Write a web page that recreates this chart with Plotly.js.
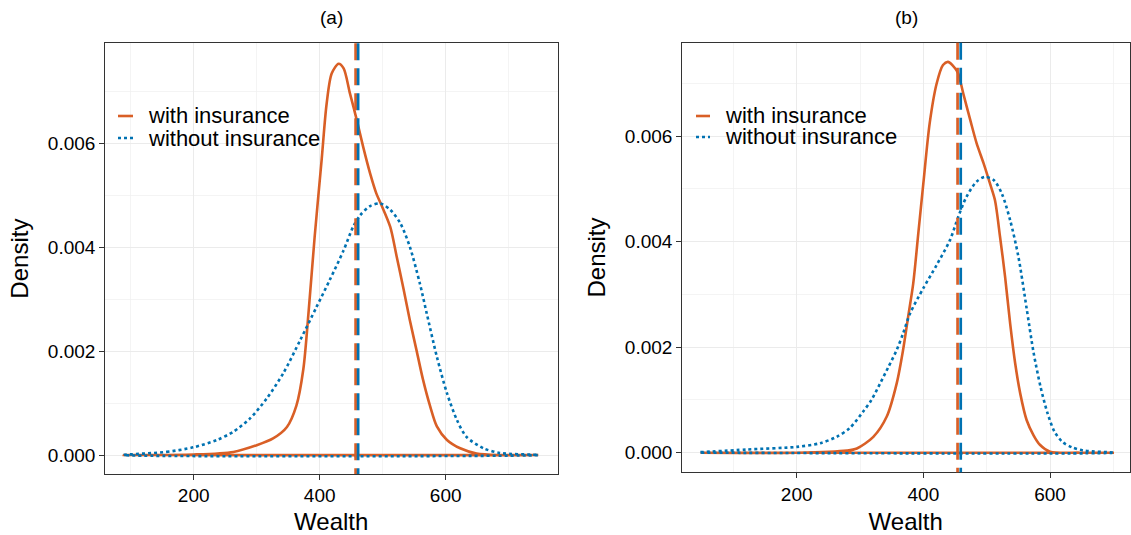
<!DOCTYPE html>
<html>
<head>
<meta charset="utf-8">
<script src="https://cdn.plot.ly/plotly-3.0.1.min.js"></script>
<style>html,body{margin:0;padding:0;background:#fff;}#chart{width:1131px;height:535px;}</style>
</head>
<body>
<div id="chart"></div>
<script>
// ---------- data ----------
const panelTitles = ["(a)", "(b)"];
const seriesNames = ["with insurance", "without insurance"];

// Panel (a)
const aWithX = [89, 200, 263, 300, 326, 348, 363, 374, 382, 392, 403, 411, 419, 430, 438, 448, 459, 469, 480, 490, 498, 512, 522, 533, 543, 554, 564, 575, 586, 602, 623, 649, 686, 747];
const aWithY = [0, 0.00001, 0.00006, 0.00019, 0.00032, 0.00054, 0.00095, 0.00165, 0.00270, 0.00420, 0.00567, 0.00676, 0.00734, 0.00753, 0.00744, 0.00696, 0.00644, 0.00593, 0.00542, 0.00503, 0.00481, 0.00439, 0.00383, 0.00320, 0.00260, 0.00200, 0.00145, 0.00095, 0.00055, 0.00029, 0.00013, 0.00003, 0, 0];
const aWithoutX = [89, 157, 200, 237, 263, 289, 316, 342, 369, 395, 416, 438, 453, 464, 480, 496, 512, 528, 543, 559, 570, 586, 602, 618, 633, 660, 686, 747];
const aWithoutY = [0, 0.00006, 0.00015, 0.00029, 0.00045, 0.00070, 0.00109, 0.00157, 0.00221, 0.00285, 0.00337, 0.00394, 0.00439, 0.00461, 0.00479, 0.00484, 0.00472, 0.00446, 0.00401, 0.00330, 0.00272, 0.00189, 0.00119, 0.00067, 0.00035, 0.00013, 0.00004, 0];

// Panel (b)
const bWithX = [48, 200, 279, 295, 321, 342, 358, 368, 376, 384, 392, 400, 410, 421, 431, 439, 450, 455, 463, 474, 484, 495, 505, 513, 521, 529, 537, 545, 553, 563, 574, 584, 600, 647, 701];
const bWithY = [0, 0, 0.00004, 0.00008, 0.00030, 0.00068, 0.00132, 0.00195, 0.00258, 0.00321, 0.00416, 0.00511, 0.00625, 0.00700, 0.00735, 0.00741, 0.00729, 0.00719, 0.00681, 0.00631, 0.00587, 0.00549, 0.00511, 0.00479, 0.00410, 0.00334, 0.00245, 0.00169, 0.00112, 0.00062, 0.00033, 0.00015, 0.00002, 0, 0];
const bWithoutX = [48, 121, 200, 237, 263, 284, 305, 318, 332, 345, 358, 368, 379, 400, 421, 442, 455, 468, 484, 497, 511, 524, 537, 550, 563, 574, 585, 596, 607, 620, 635, 653, 701];
const bWithoutY = [0.00001, 0.00006, 0.00011, 0.00018, 0.00030, 0.00047, 0.00078, 0.00100, 0.00132, 0.00163, 0.00195, 0.00226, 0.00264, 0.00312, 0.00356, 0.00403, 0.00447, 0.00485, 0.00514, 0.00523, 0.00517, 0.00491, 0.00441, 0.00372, 0.00274, 0.00190, 0.00125, 0.00075, 0.00040, 0.00020, 0.00010, 0.00004, 0];

// vertical reference lines (means) per panel
const meanWith = [457, 454];
const meanWithout = [461, 459];

// ---------- styling ----------
const ORANGE = '#D95F26';
const BLUE = '#0072B2';
const W = 1131, H = 535;
const px = v => v / W;
const py = v => 1 - v / H;
const fontFam = 'Liberation Sans, Arial, sans-serif';

function densityTrace(xs, ys, color, dash, name, xa, ya) {
  // closed density outline: curve and back along zero line
  return {
    type: 'scatter', mode: 'lines', name: name, showlegend: false,
    x: xs.concat([xs[0]]), y: ys.concat([0]),
    xaxis: xa, yaxis: ya, hoverinfo: 'skip',
    line: {color: color, width: 2.6, dash: dash, shape: 'spline', smoothing: 0.8}
  };
}

const traces = [
  densityTrace(aWithX, aWithY, ORANGE, 'solid', seriesNames[0], 'x', 'y'),
  densityTrace(aWithoutX, aWithoutY, BLUE, 'dot', seriesNames[1], 'x', 'y'),
  densityTrace(bWithX, bWithY, ORANGE, 'solid', seriesNames[0], 'x2', 'y2'),
  densityTrace(bWithoutX, bWithoutY, BLUE, 'dot', seriesNames[1], 'x2', 'y2')
];

function xAxis(domain, range, anchor) {
  return {
    domain: domain, range: range, anchor: anchor,
    tickmode: 'linear', tick0: 0, dtick: 200,
    ticks: 'outside', ticklen: 4.5, tickwidth: 1, tickcolor: '#333333',
    showline: true, mirror: true, linecolor: '#333333', linewidth: 1,
    showgrid: true, gridcolor: '#EBEBEB', gridwidth: 1, zeroline: false,
    minor: {tick0: 0, dtick: 100, showgrid: true, gridcolor: '#EFEFEF', gridwidth: 0.7, ticks: ''},
    tickfont: {size: 19, color: '#000', family: fontFam},
    title: {text: 'Wealth', font: {size: 24, color: '#000', family: fontFam}, standoff: 9},
    automargin: false, fixedrange: true
  };
}
function yAxis(domain, range, anchor) {
  return {
    domain: domain, range: range, anchor: anchor,
    tickmode: 'linear', tick0: 0, dtick: 0.002, tickformat: '.3f',
    ticks: 'outside', ticklen: 4.5, tickwidth: 1, tickcolor: '#333333',
    showline: true, mirror: true, linecolor: '#333333', linewidth: 1,
    showgrid: true, gridcolor: '#EBEBEB', gridwidth: 1, zeroline: false,
    minor: {tick0: 0, dtick: 0.001, showgrid: true, gridcolor: '#EFEFEF', gridwidth: 0.7, ticks: ''},
    tickfont: {size: 19, color: '#000', family: fontFam},
    title: {text: 'Density', font: {size: 24, color: '#000', family: fontFam}, standoff: 12},
    automargin: false, fixedrange: true
  };
}

const shapes = [];
const refs = [['x', 'y'], ['x2', 'y2']];
refs.forEach((r, i) => {
  shapes.push({type: 'line', xref: r[0], yref: r[1] + ' domain', x0: meanWith[i], x1: meanWith[i], y0: 1, y1: 0,
    line: {color: ORANGE, width: 2.7, dash: '17px,8px'}, layer: 'above'});
  shapes.push({type: 'line', xref: r[0], yref: r[1] + ' domain', x0: meanWithout[i], x1: meanWithout[i], y0: 1, y1: 0,
    line: {color: BLUE, width: 2.7, dash: '17px,8px'}, layer: 'above'});
});

// legend keys (drawn inside each panel)
const legendSpecs = [
  {lx0: 118, lx1: 133, tx: 146, y1: 116, y2: 138},
  {lx0: 696, lx1: 710, tx: 723, y1: 116, y2: 137}
];
const annotations = [];
legendSpecs.forEach(s => {
  shapes.push({type: 'line', xref: 'paper', yref: 'paper', x0: px(s.lx0), x1: px(s.lx1), y0: py(s.y1), y1: py(s.y1),
    line: {color: ORANGE, width: 2.6}});
  shapes.push({type: 'line', xref: 'paper', yref: 'paper', x0: px(s.lx0), x1: px(s.lx1), y0: py(s.y2), y1: py(s.y2),
    line: {color: BLUE, width: 2.6, dash: 'dot'}});
  annotations.push({xref: 'paper', yref: 'paper', x: px(s.tx), y: py(s.y1), xanchor: 'left', yanchor: 'middle',
    text: seriesNames[0], showarrow: false, font: {size: 22, color: '#000', family: fontFam}});
  annotations.push({xref: 'paper', yref: 'paper', x: px(s.tx), y: py(s.y2), xanchor: 'left', yanchor: 'middle',
    text: seriesNames[1], showarrow: false, font: {size: 22, color: '#000', family: fontFam}});
});
annotations.push({xref: 'paper', yref: 'paper', x: px(331), y: py(17), xanchor: 'center', yanchor: 'middle',
  text: panelTitles[0], showarrow: false, font: {size: 19, color: '#000', family: fontFam}});
annotations.push({xref: 'paper', yref: 'paper', x: px(906), y: py(17), xanchor: 'center', yanchor: 'middle',
  text: panelTitles[1], showarrow: false, font: {size: 19, color: '#000', family: fontFam}});

const layout = {
  width: W, height: H,
  margin: {l: 0, r: 0, t: 0, b: 0, pad: 0},
  paper_bgcolor: '#fff', plot_bgcolor: '#fff',
  showlegend: false,
  font: {family: fontFam, color: '#000'},
  xaxis: xAxis([px(104.7), px(557.7)], [58.7, 777.8], 'y'),
  yaxis: yAxis([1 - 474 / H, 1 - 43.3 / H], [-0.000365, 0.007923], 'x'),
  xaxis2: xAxis([px(681.7), px(1129.7)], [18.4, 725.8], 'y2'),
  yaxis2: yAxis([1 - 472.3 / H, 1 - 42.7 / H], [-0.000372, 0.007774], 'x2'),
  shapes: shapes,
  annotations: annotations
};

Plotly.newPlot('chart', traces, layout, {staticPlot: true, displayModeBar: false});
</script>
</body>
</html>
